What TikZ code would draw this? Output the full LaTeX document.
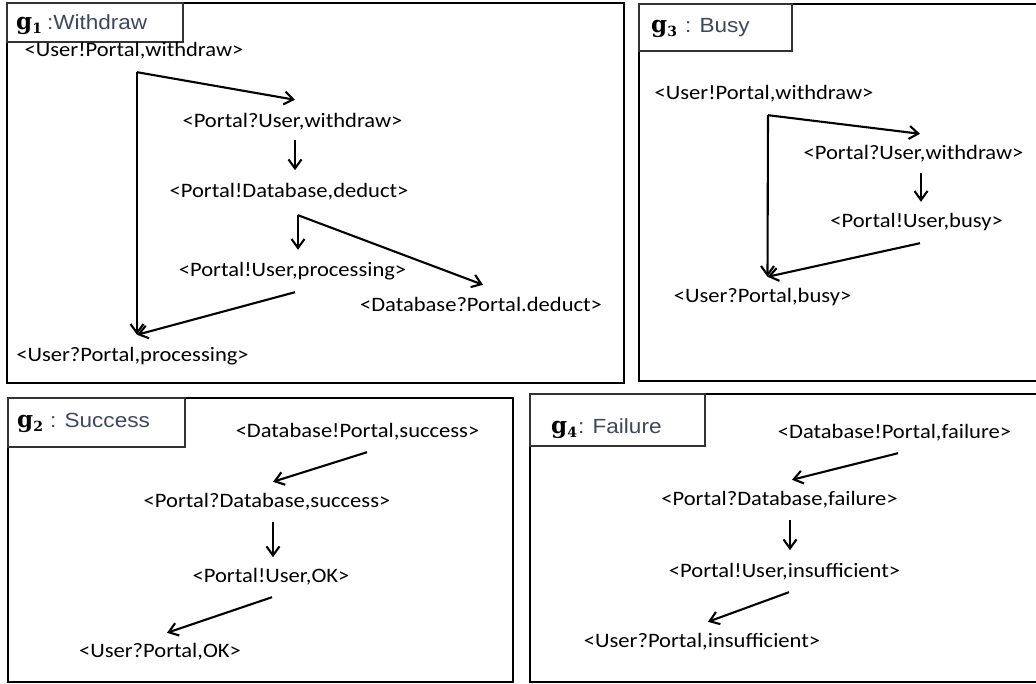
\documentclass[tikz,border=0pt]{standalone}
\usepackage{fontspec}
\usepackage{tikz}
\usetikzlibrary{arrows.meta, calc}

\newfontfamily\evfont{Carlito}[FakeStretch=1.1]
\newfontfamily\labfont{Liberation Sans}[FakeStretch=1.1]
\newfontfamily\gfont{DejaVu Serif}
\definecolor{labcol}{RGB}{62,72,92}
\newcommand{\gname}[1]{{\color{black}\gfont\bfseries\fontsize{23}{26}\selectfont g\raisebox{-4pt}{\fontsize{14}{14}\selectfont #1}}}

\begin{document}
\begin{tikzpicture}[
    x=1pt, y=-1pt,
    event/.style={inner sep=0pt, text height=14pt, text depth=4pt,
                  font=\evfont\fontsize{20.5}{24}\selectfont},
    title/.style={inner sep=0pt, anchor=base west, text=labcol,
                  font=\labfont\fontsize{20.5}{24}\selectfont},
    panel/.style={draw=black, line width=2pt},
    tab/.style={draw=black!80, line width=1.1pt},
    arrow/.style={-{Straight Barb[length=9pt, width=13pt]}, line width=2.1pt},
]
\useasboundingbox[fill=white] (0,0) rectangle (1036,684);

% panels and title tabs
\draw[panel] (7,3) rectangle (624,383);
\draw[panel] (639,4) rectangle (1040,381);
\draw[panel] (8,398) rectangle (513,682);
\draw[panel] (530,394) rectangle (1040,682);
\draw[tab] (7,3) rectangle (183,42);
\draw[tab] (639,4) rectangle (792,51);
\draw[tab] (8,398) rectangle (185,447);
\draw[tab] (530,394) rectangle (705,446);

\node[title] (t1) at (16,30) {\gname{1}\hspace{5pt}:Withdraw};
\node[title] (t3) at (651,33) {\gname{3}\hspace{8pt}: Busy};
\node[title] (t2) at (17,428) {\gname{2}\hspace{7pt}: Success};
\node[title] (t4) at (551,433) {\gname{4}\hspace{1pt}: Failure};

% g1: Withdraw
\node[event] (send1) at (134,52) {<User!Portal,withdraw>};
\node[event] (recv1) at (292.5,123) {<Portal?User,withdraw>};
\node[event] (deduct1) at (289,193) {<Portal!Database,deduct>};
\node[event] (proc1) at (292.5,272) {<Portal!User,processing>};
\node[event] (dbrecv1) at (481,307) {<Database?Portal.deduct>};
\node[event] (urecv1) at (132.5,357) {<User?Portal,processing>};

\coordinate (c1) at ($(send1.south)+(3,11)$);
\coordinate (c1e) at ($(urecv1.north)+(4.5,-13)$);
\coordinate (c2) at ($(deduct1.south)+(9,13)$);
\draw[arrow] (c1) -- ($(recv1.north)+(2.5,-14)$);
\draw[arrow] (c1) -- (c1e);
\draw[arrow] ($(recv1.south)+(2.5,8)$) -- ($(recv1.south)+(2.5,38)$);
\draw[arrow] (c2) -- ($(proc1.north)+(5.5,-13)$);
\draw[arrow] (c2) -- ($(dbrecv1.north)+(2,-13)$);
\draw[arrow] ($(proc1.south)+(2.5,11)$) -- (c1e);

% g3: Busy
\node[event] (send3) at (764,95) {<User!Portal,withdraw>};
\node[event] (recv3) at (913.5,155) {<Portal?User,withdraw>};
\node[event] (busy3) at (916.5,223) {<Portal!User,busy>};
\node[event] (urecv3) at (762.5,298) {<User?Portal,busy>};

\coordinate (c3) at ($(send3.south)+(4,11)$);
\coordinate (c3e) at ($(urecv3.north)+(5,-12)$);
\draw[arrow] (c3) -- ($(recv3.north)+(6.5,-12)$);
\draw[arrow] (c3) -- (c3e);
\draw[arrow] ($(recv3.south)+(7.5,9)$) -- ($(busy3.north)+(4.5,-12)$);
\draw[arrow] ($(busy3.south)+(3.5,11)$) -- (c3e);

% g2: Success
\node[event] (dbsend2) at (357.5,432) {<Database!Portal,success>};
\node[event] (precv2) at (267,502) {<Portal?Database,success>};
\node[event] (ok2) at (271,577) {<Portal!User,OK>};
\node[event] (urecv2) at (160,652) {<User?Portal,OK>};

\draw[arrow] ($(dbsend2.south)+(9.5,11)$) -- ($(precv2.north)+(6,-11)$);
\draw[arrow] ($(precv2.south)+(6,11)$) -- ($(precv2.south)+(6,46)$);
\draw[arrow] ($(ok2.south)+(1,11)$) -- ($(urecv2.north)+(7,-10)$);

% g4: Failure
\node[event] (dbsend4) at (894.5,433) {<Database!Portal,failure>};
\node[event] (precv4) at (779.5,500) {<Portal?Database,failure>};
\node[event] (insuf4) at (784.5,572) {<Portal!User,insufficient>};
\node[event] (urecv4) at (702,642) {<User?Portal,insufficient>};

\draw[arrow] ($(dbsend4.south)+(3.5,11)$) -- ($(precv4.north)+(12.5,-11)$);
\draw[arrow] ($(precv4.south)+(10.5,11)$) -- ($(precv4.south)+(10.5,41)$);
\draw[arrow] ($(insuf4.south)+(4.5,11)$) -- ($(urecv4.north)+(6,-11)$);
\end{tikzpicture}
\end{document}
